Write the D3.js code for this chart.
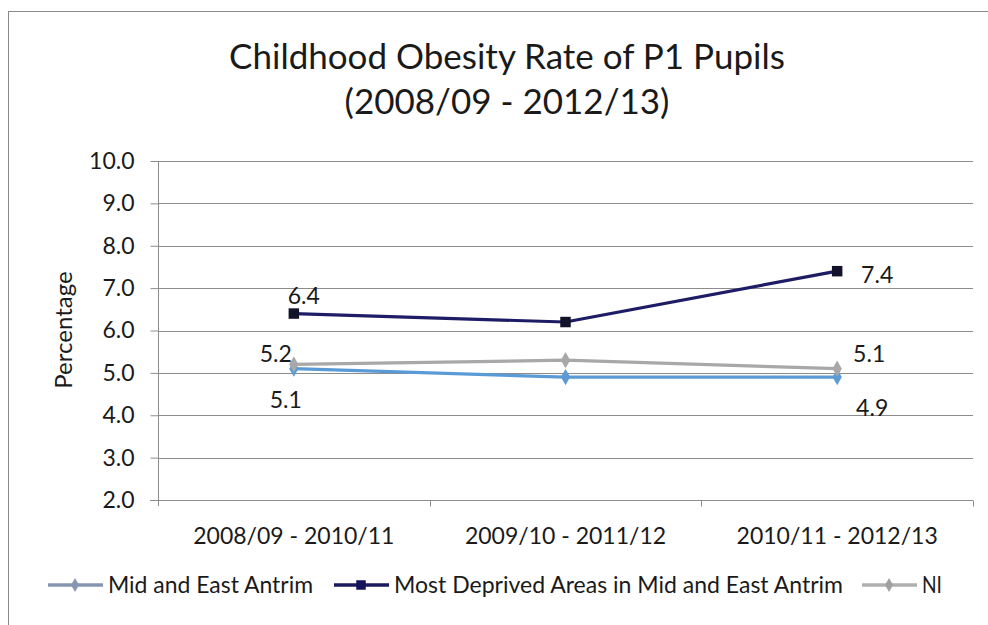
<!DOCTYPE html>
<html><head><meta charset="utf-8">
<script src="https://cdn.jsdelivr.net/npm/d3@7"></script>
<style>body{margin:0;background:#fff;overflow:hidden}svg{display:block}text{font-family:Lato,"Open Sans",sans-serif;fill:#1a1a1a}</style>
</head><body><svg id="c" width="988" height="625"></svg>
<script>
const categories = ["2008/09 - 2010/11", "2009/10 - 2011/12", "2010/11 - 2012/13"];
const seriesNames = ["Mid and East Antrim", "Most Deprived Areas in Mid and East Antrim", "NI"];
const midEastAntrim = [5.1, 4.9, 4.9];
const mostDeprived = [6.4, 6.2, 7.4];
const ni = [5.2, 5.3, 5.1];
const yTicks = [2, 3, 4, 5, 6, 7, 8, 9, 10];

const svg = d3.select("#c");
const m = {left: 158, right: 973, top: 161, bottom: 500};
const FONT = "Lato,'Open Sans',sans-serif";

// chart border (right and bottom edges run off the picture, as in the reference)
svg.append("rect").attr("x", 8.5).attr("y", 11.5).attr("width", 1100).attr("height", 700)
  .attr("fill", "#fff").attr("stroke", "#8a8a8a").attr("stroke-width", 1);

const x = d3.scaleBand().domain(categories).range([m.left, m.right]);
const y = d3.scaleLinear().domain([2, 10]).range([m.bottom, m.top]);

// title
svg.append("text").attr("x", 507).attr("y", 69).attr("text-anchor", "middle")
  .attr("font-size", 35).text("Childhood Obesity Rate of P1 Pupils");
svg.append("text").attr("x", 507).attr("y", 114).attr("text-anchor", "middle")
  .attr("font-size", 35).text("(2008/09 - 2012/13)");

// gridlines
svg.append("g").selectAll("line").data(yTicks.filter(d => d > 2)).join("line")
  .attr("x1", m.left).attr("x2", m.right)
  .attr("y1", d => Math.round(y(d)) + 0.5).attr("y2", d => Math.round(y(d)) + 0.5)
  .attr("stroke", "#8c8c8c").attr("stroke-width", 1);

// y axis
const yAxis = d3.axisLeft(y).tickValues(yTicks).tickFormat(d3.format(".1f")).tickSize(8).tickPadding(16);
const gy = svg.append("g").attr("transform", `translate(${m.left + 0.5},0)`).call(yAxis);
gy.select(".domain").attr("stroke", "#8c8c8c").attr("d", `M0,${m.top}V${m.bottom + 6}`);
gy.selectAll(".tick line").attr("stroke", "#8c8c8c");
gy.selectAll(".tick text").attr("font-size", 23).attr("font-family", FONT).attr("fill", "#1a1a1a");

// x axis
const gx = svg.append("g").attr("transform", `translate(0,${m.bottom + 0.5})`);
gx.append("line").attr("x1", m.left - 8).attr("x2", m.right).attr("stroke", "#8c8c8c");
const bounds = categories.slice(1).map(c => x(c)).concat([m.right]);
gx.selectAll("line.t").data(bounds).join("line").attr("class", "t")
  .attr("x1", d => Math.round(d) + 0.5).attr("x2", d => Math.round(d) + 0.5)
  .attr("y1", 0).attr("y2", 6).attr("stroke", "#8c8c8c");
gx.selectAll("text").data(categories).join("text")
  .attr("x", d => x(d) + x.bandwidth() / 2).attr("y", 43).attr("text-anchor", "middle")
  .attr("font-size", 23).text(d => d);

// y axis title
svg.append("text").attr("transform", "translate(72,330) rotate(-90)").attr("text-anchor", "middle")
  .attr("font-size", 24).text("Percentage");

const cx = d => x(d) + x.bandwidth() / 2;
const series = [
  {values: midEastAntrim, color: "#5b9bd5", marker: "diamond", mfill: "#5b9bd5"},
  {values: ni, color: "#a8a8a8", marker: "diamond", mfill: "#a8a8a8"},
  {values: mostDeprived, color: "#1f1c66", marker: "square", mfill: "#12122a"}
];
const line = d3.line().x((d, i) => cx(categories[i])).y(d => y(d));

series.forEach(s => {
  svg.append("path").datum(s.values).attr("d", line).attr("fill", "none")
    .attr("stroke", s.color).attr("stroke-width", 3.2).attr("stroke-linejoin", "round");
  const sym = d3.symbol().type(s.marker === "square" ? d3.symbolSquare : d3.symbolDiamond)
    .size(s.marker === "square" ? 110 : 75);
  svg.append("g").selectAll("path").data(s.values).join("path")
    .attr("transform", (d, i) => `translate(${cx(categories[i])},${y(d)})`)
    .attr("d", sym).attr("fill", s.mfill);
});

// data labels (first and last points)
const fmt = d3.format(".1f");
const labels = [
  {v: mostDeprived[0], i: 0, dx: 10, dy: -10},
  {v: ni[0], i: 0, dx: -18, dy: -2},
  {v: midEastAntrim[0], i: 0, dx: -8, dy: 39},
  {v: mostDeprived[2], i: 2, dx: 40, dy: 12},
  {v: ni[2], i: 2, dx: 32, dy: -7},
  {v: midEastAntrim[2], i: 2, dx: 35, dy: 39}
];
svg.append("g").selectAll("text").data(labels).join("text")
  .attr("x", d => cx(categories[d.i]) + d.dx).attr("y", d => y(d.v) + d.dy)
  .attr("text-anchor", "middle").attr("font-size", 23).text(d => fmt(d.v));

// legend
const legendItems = [
  {name: seriesNames[0], color: "#8796b0", mcolor: "#8796b0", marker: "diamond", x: 48, tw: 205},
  {name: seriesNames[1], color: "#1c1a5c", mcolor: "#14145a", marker: "square", x: 334, tw: 449},
  {name: seriesNames[2], color: "#b0b0b0", mcolor: "#a0a0a0", marker: "diamond", x: 862, tw: 20}
];
const lg = svg.append("g").attr("transform", "translate(0,585)");
legendItems.forEach(l => {
  lg.append("line").attr("x1", l.x).attr("x2", l.x + 55).attr("stroke", l.color).attr("stroke-width", 3.5);
  lg.append("path").attr("transform", `translate(${l.x + 27},0)`)
    .attr("d", d3.symbol().type(l.marker === "square" ? d3.symbolSquare : d3.symbolDiamond).size(l.marker === "square" ? 90 : 55)())
    .attr("fill", l.mcolor);
  lg.append("text").attr("x", l.x + 60).attr("y", 8).attr("font-size", 23)
    .attr("textLength", l.tw).attr("lengthAdjust", "spacingAndGlyphs").text(l.name);
});
</script></body></html>
